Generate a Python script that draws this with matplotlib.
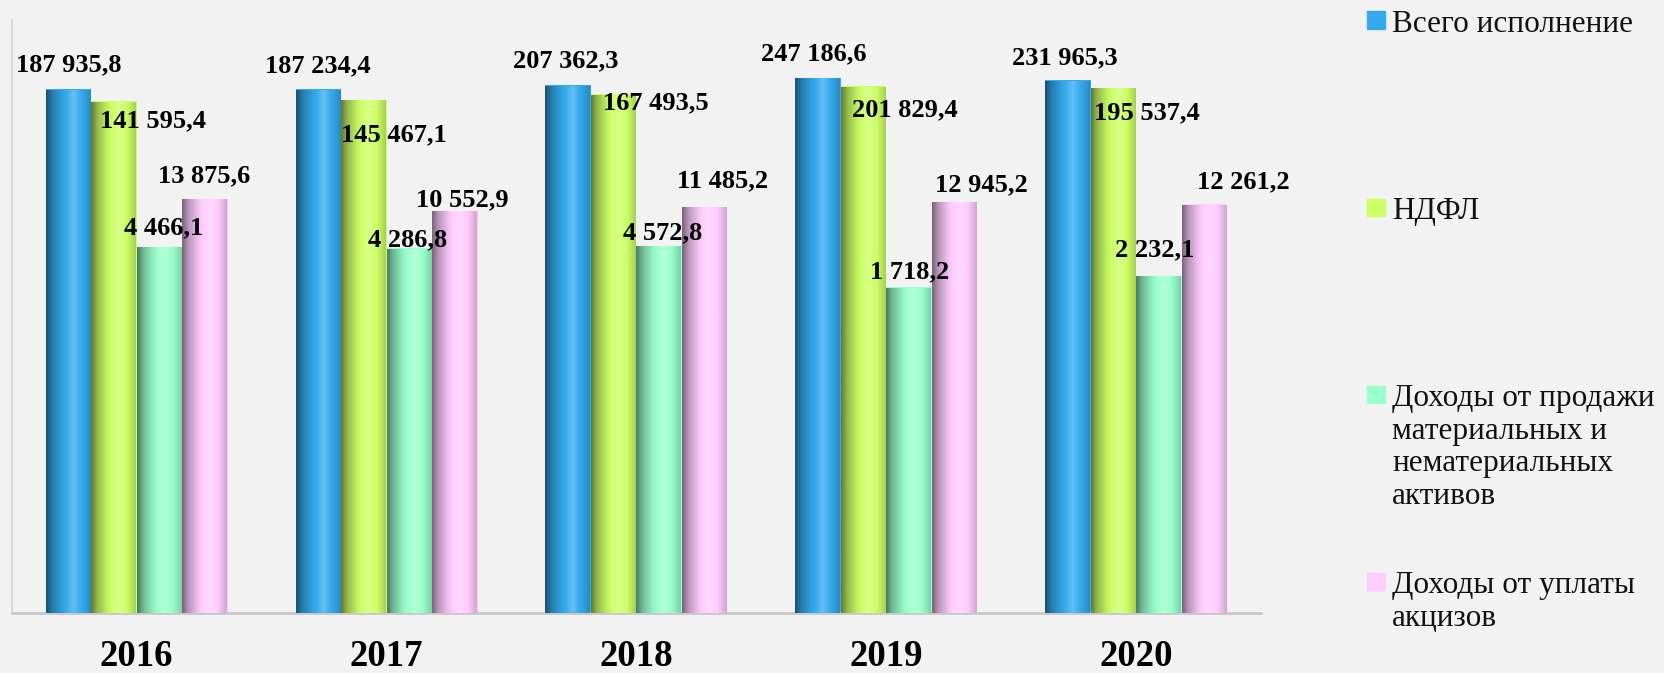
import numpy as np
import matplotlib
matplotlib.use('Agg')
from matplotlib import pyplot as plt
from matplotlib.patches import Rectangle
from matplotlib.colors import to_rgb

plt.rcParams['font.family'] = ['Liberation Serif', 'DejaVu Serif']

years = ['2016', '2017', '2018', '2019', '2020']
series_names = ['Всего исполнение',
                'НДФЛ',
                'Доходы от продажи\nматериальных и\nнематериальных\nактивов',
                'Доходы от уплаты\nакцизов']
total = [187935.8, 187234.4, 207362.3, 247186.6, 231965.3]
ndfl = [141595.4, 145467.1, 167493.5, 201829.4, 195537.4]
assets = [4466.1, 4286.8, 4572.8, 1718.2, 2232.1]
excise = [13875.6, 10552.9, 11485.2, 12945.2, 12261.2]
all_series = [total, ndfl, assets, excise]

colors = ['#33aaee', '#ccff66', '#99ffcc', '#ffccff']

# label offsets from the bar top, in pixels (dx, dy)
label_offsets = [
    [(0, 24), (-1, 24), (-3, 24), (-4, 24), (-3, 23)],
    [(39, -20), (30, -35), (42, -9), (41, -24), (34, -25)],
    [(4, 19), (-2, 9), (3, 13), (1, 15), (-4, 26)],
    [(-1, 23), (8, 11), (18, 26), (27, 17), (39, 22)],
]

W, H = 1664, 673
bg = '#f2f2f2'
fig = plt.figure(figsize=(W / 100, H / 100), dpi=100, facecolor=bg)
ax = fig.add_axes([11.8 / W, (H - 613) / H, 1249.2 / W, 593.4 / H])
ax.set_facecolor(bg)


def shade(base):
    # horizontal cylinder-like shading across the bar
    c = np.array(to_rgb(base))
    pos = np.array([0.0, 0.12, 0.35, 0.6, 0.8, 1.0])
    fac = np.array([0.50, 0.72, 0.95, 1.10, 0.98, 0.80])
    t = np.linspace(0, 1, 64)
    f = np.interp(t, pos, fac)
    rows = []
    for v in f:
        if v <= 1:
            rows.append(c * v)
        else:
            rows.append(c + (1 - c) * (v - 1) * 2.5)
    return np.clip(np.array(rows), 0, 1)[None, :, :]


x = np.arange(len(years))
w = 0.182
for i, vals in enumerate(all_series):
    xs = x + (i - 1.5) * w
    bars = ax.bar(xs, vals, width=w, color=colors[i], zorder=2)
    grad = shade(colors[i])
    for b in bars:
        im = ax.imshow(grad, extent=[b.get_x(), b.get_x() + b.get_width(), 0, 1],
                       transform=ax.get_xaxis_transform(), aspect='auto',
                       interpolation='bilinear', zorder=3)
        im.set_clip_path(b)
    for j, v in enumerate(vals):
        dx, dy = label_offsets[i][j]
        txt = f'{v:,.1f}'.replace(',', ' ').replace('.', ',')
        ax.annotate(txt, (xs[j], v), xytext=(dx, dy), textcoords='offset pixels',
                    ha='center', va='center', fontsize=19, fontweight='bold',
                    color='black', zorder=5)

ax.set_yscale('log')
ax.set_ylim(0.75, 9.8e5)
ax.set_xlim(-0.5, len(years) - 0.5)
ax.set_yticks([])
ax.minorticks_off()
ax.set_xticks(x)
ax.set_xticklabels(years, fontsize=26.5, fontweight='bold')
ax.tick_params(axis='x', length=0, pad=19)
ax.spines['top'].set_visible(False)
ax.spines['right'].set_visible(False)
ax.spines['left'].set_color('#d9d9d9')
ax.spines['left'].set_linewidth(1.5)
ax.spines['bottom'].set_color('#c8c8c8')
ax.spines['bottom'].set_linewidth(2)

# legend on the right, drawn by hand to keep the even spacing
for k, name in enumerate(series_names):
    yc = 20 + 187 * k
    fig.add_artist(Rectangle((1367 / W, (H - yc - 8.5) / H), 18 / W, 17 / H,
                             transform=fig.transFigure, color=colors[k]))
    fig.text(1392 / W, (H - yc + 10) / H, name, fontsize=22.5, va='top', ha='left',
             linespacing=1.17, color='#111111')

fig.savefig('out.png', dpi=100, facecolor=bg)
